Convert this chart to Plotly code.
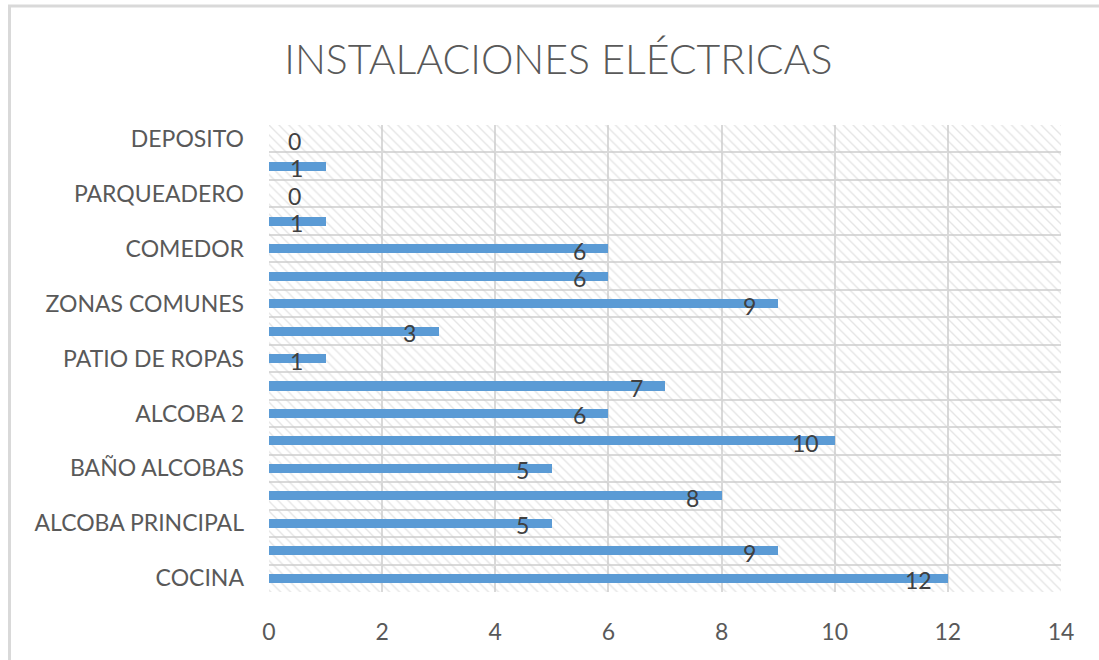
import plotly.graph_objects as go

# categories bottom -> top
categories = ["COCINA", "", "ALCOBA PRINCIPAL", "", "BAÑO ALCOBAS", "", "ALCOBA 2", "",
              "PATIO DE ROPAS", "", "ZONAS COMUNES", "", "COMEDOR", "", "PARQUEADERO", "", "DEPOSITO"]
values = [12, 9, 5, 8, 5, 10, 6, 7, 1, 3, 9, 6, 6, 1, 0, 1, 0]
x_ticks = [0, 2, 4, 6, 8, 10, 12, 14]
title_text = "INSTALACIONES ELÉCTRICAS"

X_MAX = 14
n = len(categories)
ypos = list(range(n))

GRID = "#d9d9d9"
TXT = "#595959"
FONT = "Lato, Open Sans, sans-serif"

fig = go.Figure()

# hatched plot-area background
fig.add_trace(go.Bar(
    x=[X_MAX] * n, y=ypos, orientation="h", width=1,
    marker=dict(color="rgba(0,0,0,0)", line=dict(width=0),
                pattern=dict(shape="\\", fgcolor="#cccccc", bgcolor="rgba(0,0,0,0)",
                             size=7, solidity=0.2)),
    hoverinfo="skip", showlegend=False))

fig.add_trace(go.Bar(
    x=values, y=ypos, orientation="h", width=0.33,
    marker=dict(color="#5b9bd5", line=dict(width=0)),
    showlegend=False))

annotations = []
for v, y in zip(values, ypos):
    annotations.append(dict(
        x=v, y=y, xref="x", yref="y", text=str(v), showarrow=False,
        xanchor="center", yanchor="middle",
        xshift=(25 if v == 0 else -29), yshift=-2,
        font=dict(family=FONT, size=23, color="#404040")))

fig.update_layout(
    width=1099, height=660,
    margin=dict(l=269, r=38, t=125, b=68),
    paper_bgcolor="white", plot_bgcolor="white",
    barmode="overlay", bargap=0,
    title=dict(text=title_text, x=0.508, xanchor="center", y=0.91, yanchor="middle",
               font=dict(family=FONT, size=41, color=TXT, weight=300)),
    annotations=annotations,
    shapes=[
        dict(type="line", xref="paper", yref="paper",
             x0=(9.5 - 269) / 792, x1=(9.5 - 269) / 792,
             y0=(660 - 68 - 5) / 467, y1=(-68 - 10) / 467,
             line=dict(color=GRID, width=3)),
        dict(type="line", xref="paper", yref="paper",
             x0=(8 - 269) / 792, x1=(1110 - 269) / 792,
             y0=(660 - 68 - 6) / 467, y1=(660 - 68 - 6) / 467,
             line=dict(color=GRID, width=3)),
    ],
    xaxis=dict(range=[0, X_MAX], tickvals=x_ticks, ticktext=[str(t) for t in x_ticks],
               showgrid=True, gridcolor=GRID, gridwidth=2, zeroline=False,
               showline=False, ticks="", ticklabelstandoff=24,
               tickfont=dict(family=FONT, size=23, color=TXT)),
    yaxis=dict(range=[-0.5, n - 0.5],
               tickvals=[i for i, c in enumerate(categories) if c],
               ticktext=[c for c in categories if c],
               showgrid=False, zeroline=False, showline=False, ticks="",
               ticklabelstandoff=24,
               minor=dict(tickvals=[i - 0.5 for i in range(n + 1)], showgrid=True,
                          gridcolor=GRID, gridwidth=2, ticks=""),
               tickfont=dict(family=FONT, size=23, color=TXT)),
)

fig.write_html("out.html")
